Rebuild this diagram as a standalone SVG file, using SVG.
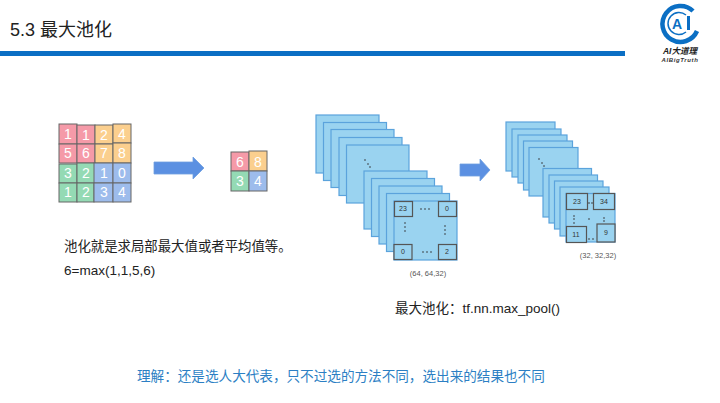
<svg xmlns="http://www.w3.org/2000/svg" width="720" height="403" viewBox="0 0 720 403">
<style>
text{font-family:"Liberation Sans","Noto Sans CJK SC",sans-serif}
.t{fill:#222;font-size:14px}
.c{font-size:14px;fill:#fff;text-anchor:middle}
.r{fill:#f59aa8;stroke:#666;stroke-width:1}
.o{fill:#fbcf8e;stroke:#666;stroke-width:1}
.g{fill:#94dab4;stroke:#666;stroke-width:1}
.b{fill:#9dbcec;stroke:#666;stroke-width:1}
.s{fill:#9ad3f0;stroke:#5ba3dc;stroke-width:1.2}
.k{fill:#9ad3f0;stroke:#555;stroke-width:1.2}
.n{font-size:7px;fill:#333;text-anchor:middle}
.d{font-size:7.500px;fill:#555;text-anchor:middle}
.a{fill:#5b90e2;stroke:#6f9fe0;stroke-width:.8}
.dot{fill:#333}
</style>
<rect width="720" height="403" fill="#fff"/>
<g id="header">
<text x="10" y="36" font-size="18" fill="#222">5.3 最大池化</text>
<rect x="0" y="51" width="625" height="5" fill="#0b6fc4"/>
</g>
<g id="logo">
<path d="M 693 11 A 18 18 0 1 0 697 31" fill="none" stroke="#0b6fc4" stroke-width="4.500"/>
<path d="M 686 15 A 11 11 0 1 0 686 32" fill="none" stroke="#0b6fc4" stroke-width="1.500"/>
<text x="677" y="29" font-size="14" font-weight="bold" fill="#0b6fc4" text-anchor="middle">A</text>
<rect x="687" y="16" width="3" height="14" fill="#0b6fc4"/>
<text x="680" y="54" font-size="8.500" font-weight="bold" font-style="italic" fill="#222" text-anchor="middle">AI大道理</text>
<text x="680" y="62" font-size="6" font-weight="bold" font-style="italic" fill="#333" text-anchor="middle" letter-spacing=".6">AIBigTruth</text>
</g>
<g id="grid-input">
<rect class="r" x="59" y="124" width="18" height="20"/><rect class="r" x="77" y="125" width="18" height="19"/><rect class="o" x="95" y="125" width="18" height="19"/><rect class="o" x="113" y="124" width="18" height="19"/>
<rect class="r" x="59" y="144" width="18" height="19"/><rect class="r" x="77" y="144" width="18" height="19"/><rect class="o" x="95" y="144" width="18" height="19"/><rect class="o" x="113" y="143" width="18" height="20"/>
<rect class="g" x="59" y="164" width="18" height="19"/><rect class="g" x="77" y="163" width="18" height="20"/><rect class="b" x="94" y="163" width="19" height="20"/><rect class="b" x="113" y="163" width="18" height="20"/>
<rect class="g" x="59" y="183" width="18" height="19"/><rect class="g" x="77" y="183" width="17" height="19"/><rect class="b" x="94" y="183" width="19" height="19"/><rect class="b" x="113" y="183" width="18" height="19"/>
<text class="c" x="68" y="139">1</text><text class="c" x="86" y="140">1</text><text class="c" x="104" y="140">2</text><text class="c" x="122" y="139">4</text>
<text class="c" x="68" y="158">5</text><text class="c" x="86" y="158">6</text><text class="c" x="104" y="158">7</text><text class="c" x="122" y="158">8</text>
<text class="c" x="68" y="178">3</text><text class="c" x="86" y="178">2</text><text class="c" x="104" y="178">1</text><text class="c" x="122" y="178">0</text>
<text class="c" x="68" y="197">1</text><text class="c" x="86" y="197">2</text><text class="c" x="104" y="197">3</text><text class="c" x="122" y="197">4</text>
</g>
<g id="grid-output">
<rect class="r" x="231" y="152" width="18" height="19"/><rect class="o" x="249" y="151" width="18" height="20"/>
<rect class="g" x="231" y="171" width="18" height="20"/><rect class="b" x="249" y="171" width="18" height="20"/>
<text class="c" x="240" y="167">6</text><text class="c" x="258" y="167">8</text>
<text class="c" x="240" y="186">3</text><text class="c" x="258" y="186">4</text>
</g>
<g id="connectors">
<polygon class="a" points="154,162 193,162 193,157 204,168 193,179 193,174 154,174"/>
<polygon class="a" points="460,164 480,164 480,159 490,170 480,181 480,176 460,176"/>
</g>
<g id="stack-input">
<rect class="s" x="316" y="115" width="63" height="58"/>
<rect class="s" x="323.500" y="122.500" width="63" height="58"/>
<rect class="s" x="331" y="129.500" width="63" height="58"/>
<rect class="s" x="339" y="137.500" width="63" height="58"/>
<rect class="s" x="346.500" y="145" width="62.500" height="58"/>
<circle class="dot" cx="365" cy="160" r=".8"/><circle class="dot" cx="368" cy="164" r=".8"/><circle class="dot" cx="370" cy="167" r=".8"/>
<rect class="s" x="364" y="171" width="63" height="58"/>
<rect class="s" x="371.500" y="178.500" width="63" height="58"/>
<rect class="s" x="379" y="186" width="63" height="58"/>
<rect class="s" x="386.500" y="193.500" width="63" height="58"/>
<rect class="s" x="394" y="201" width="63" height="59"/>
<rect class="k" x="394.500" y="201.500" width="18" height="15"/><rect class="k" x="438.500" y="201.500" width="18" height="15"/>
<rect class="k" x="394" y="244.500" width="18" height="15"/><rect class="k" x="438.500" y="244.500" width="18" height="15"/>
<text class="n" x="403" y="211">23</text><text class="n" x="447" y="211">0</text><text class="n" x="403" y="254">0</text><text class="n" x="447" y="254">2</text>
<g class="dot"><circle cx="421" cy="209" r=".8"/><circle cx="425" cy="209" r=".8"/><circle cx="429" cy="209" r=".8"/>
<circle cx="423" cy="252" r=".8"/><circle cx="427" cy="252" r=".8"/><circle cx="431" cy="252" r=".8"/>
<circle cx="405" cy="223" r=".8"/><circle cx="405" cy="227" r=".8"/><circle cx="405" cy="231" r=".8"/>
<circle cx="445" cy="226" r=".8"/><circle cx="445" cy="230" r=".8"/><circle cx="445" cy="234" r=".8"/></g>
<text class="d" x="428" y="276">(64, 64,32)</text>
</g>
<g id="stack-output">
<rect class="s" x="506" y="122" width="49" height="49"/>
<rect class="s" x="512" y="129" width="49" height="48"/>
<rect class="s" x="518" y="135" width="49" height="48"/>
<rect class="s" x="523.500" y="141" width="49" height="49"/>
<rect class="s" x="529" y="147.500" width="49" height="48.500"/>
<circle class="dot" cx="539" cy="159" r=".8"/><circle class="dot" cx="542" cy="163" r=".8"/><circle class="dot" cx="544" cy="166" r=".8"/>
<rect class="s" x="543" y="168.500" width="48.500" height="48.500"/>
<rect class="s" x="549" y="175" width="48.500" height="48"/>
<rect class="s" x="554.500" y="181" width="48.500" height="48"/>
<rect class="s" x="560" y="187" width="49" height="49"/>
<rect class="s" x="566" y="193.500" width="49" height="48.500"/>
<rect class="k" x="566.500" y="193.500" width="21" height="16"/><rect class="k" x="593.500" y="193.500" width="21" height="16"/>
<rect class="k" x="566.500" y="226.500" width="20" height="16"/><rect class="k" x="597" y="224" width="18" height="18"/>
<text class="n" x="577" y="204">23</text><text class="n" x="604" y="204">34</text><text class="n" x="576" y="237">11</text><text class="n" x="606" y="235">9</text>
<g class="dot"><circle cx="589" cy="203" r=".8"/><circle cx="592" cy="203" r=".8"/>
<circle cx="589" cy="239" r=".8"/><circle cx="593" cy="239" r=".8"/>
<circle cx="574" cy="216" r=".8"/><circle cx="574" cy="219" r=".8"/><circle cx="574" cy="223" r=".8"/>
<circle cx="589" cy="219" r=".8"/>
<circle cx="604" cy="218" r=".8"/><circle cx="604" cy="221" r=".8"/></g>
<text class="d" x="598" y="258">(32, 32,32)</text>
</g>
<g id="captions">
<text class="t" x="64" y="251" style="font-size:13.400px">池化就是求局部最大值或者平均值等。</text>
<text class="t" x="64" y="275" style="font-size:13.500px">6=max(1,1,5,6)</text>
<text class="t" x="395" y="313" style="font-size:13.500px">最大池化：tf.nn.max_pool()</text>
<text x="137" y="381" font-size="13.600" fill="#2c7fc4">理解：还是选人大代表，只不过选的方法不同，选出来的结果也不同</text>
</g>
</svg>
